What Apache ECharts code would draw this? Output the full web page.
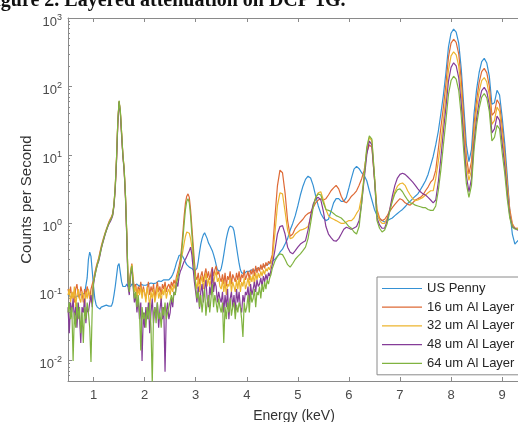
<!DOCTYPE html>
<html><head><meta charset="utf-8">
<script src="https://cdn.jsdelivr.net/npm/echarts@6/dist/echarts.min.js"></script>
<style>html,body{margin:0;padding:0;background:#fff;}#c{width:518px;height:422px;}</style>
</head><body><div id="c"></div>
<script>
const titleText = 'Figure 2. Layered attenuation on DCP 1G.';
const seriesNames = ['US Penny', '16 um Al Layer', '32 um Al Layer', '48 um Al Layer', '64 um Al Layer'];
const xTickValues = [1, 2, 3, 4, 5, 6, 7, 8, 9];
const yTickValues = [0.01, 0.1, 1, 10, 100, 1000];

const energy = [
0.500,0.525,0.550,0.575,0.600,0.625,0.650,0.675,0.700,0.725,0.750,0.775,0.800,0.825,0.850,0.875,0.900,0.925,0.950,0.975,
1.000,1.025,1.050,1.075,1.100,1.125,1.150,1.175,1.200,1.225,1.250,1.275,1.300,1.325,1.350,1.375,1.400,1.425,1.450,1.475,
1.500,1.525,1.550,1.575,1.600,1.625,1.650,1.675,1.700,1.725,1.750,1.775,1.800,1.825,1.850,1.875,1.900,1.925,1.950,1.975,
2.000,2.025,2.050,2.075,2.100,2.125,2.150,2.175,2.200,2.225,2.250,2.275,2.300,2.325,2.350,2.375,2.400,2.425,2.450,2.475,
2.500,2.525,2.550,2.575,2.600,2.625,2.650,2.675,2.700,2.725,2.750,2.775,2.800,2.825,2.850,2.875,2.900,2.925,2.950,2.975,
3.000,3.025,3.050,3.075,3.100,3.125,3.150,3.175,3.200,3.225,3.250,3.275,3.300,3.325,3.350,3.375,3.400,3.425,3.450,3.475,
3.500,3.525,3.550,3.575,3.600,3.625,3.650,3.675,3.700,3.725,3.750,3.775,3.800,3.825,3.850,3.875,3.900,3.925,3.950,3.975,
4.000,4.025,4.050,4.075,4.100,4.125,4.150,4.175,4.200,4.225,4.250,4.275,4.300,4.325,4.350,4.375,4.400,4.425,4.450,4.475,
4.50,4.55,4.60,4.65,4.70,4.75,4.80,4.85,4.90,4.95,
5.00,5.05,5.10,5.15,5.20,5.25,5.30,5.35,5.40,5.45,
5.50,5.55,5.60,5.65,5.70,5.75,5.80,5.85,5.90,5.95,
6.00,6.05,6.10,6.15,6.20,6.25,6.30,6.35,6.40,6.45,
6.50,6.55,6.60,6.65,6.70,6.75,6.80,6.85,6.90,6.95,
7.00,7.05,7.10,7.15,7.20,7.25,7.30,7.35,7.40,7.45,
7.50,7.55,7.60,7.65,7.70,7.75,7.80,7.85,7.90,7.95,
8.00,8.05,8.10,8.15,8.20,8.25,8.30,8.35,8.40,8.45,
8.50,8.55,8.60,8.65,8.70,8.75,8.80,8.85,8.90,8.95,
9.00,9.05,9.10,9.15,9.20,9.25,9.30,9.35];

const usPenny = [
0.09,0.095,0.085,0.09,0.088,0.082,0.08,0.086,0.085,0.09,0.088,0.092,0.09,0.095,0.1,0.16,0.3,0.38,0.33,0.2,
0.12,0.08,0.065,0.06,0.058,0.056,0.06,0.058,0.062,0.06,0.064,0.06,0.062,0.065,0.062,0.07,0.09,0.12,0.17,0.24,
0.26,0.19,0.14,0.12,0.115,0.12,0.13,0.12,0.125,0.12,0.13,0.122,0.125,0.12,0.13,0.125,0.12,0.13,0.126,0.125,
0.13,0.125,0.12,0.13,0.128,0.135,0.13,0.132,0.14,0.135,0.14,0.145,0.14,0.142,0.145,0.15,0.148,0.15,0.155,0.15,
0.16,0.165,0.18,0.2,0.23,0.27,0.3,0.34,0.36,0.35,0.33,0.3,0.27,0.25,0.24,0.23,0.22,0.22,0.21,0.2,
0.2,0.22,0.28,0.38,0.5,0.6,0.68,0.73,0.7,0.6,0.52,0.48,0.45,0.4,0.35,0.3,0.25,0.21,0.2,0.2,
0.22,0.27,0.35,0.46,0.6,0.73,0.85,0.92,0.93,0.88,0.78,0.6,0.45,0.34,0.26,0.21,0.19,0.19,0.185,0.19,
0.2,0.195,0.2,0.205,0.21,0.2,0.205,0.21,0.22,0.215,0.22,0.225,0.23,0.235,0.24,0.24,0.25,0.255,0.26,0.27,
0.28,0.3,0.33,0.38,0.42,0.5,0.6,0.8,1.0,1.3,
1.8,2.6,3.5,4.4,4.9,4.6,3.6,2.5,1.8,1.4,
1.2,1.1,1.15,1.5,2.0,2.3,2.3,2.1,2.1,2.4,
3.3,4.6,6.2,6.8,6.3,5.5,5.0,4.2,3.0,2.2,
1.6,1.3,1.15,1.1,1.05,1.1,1.15,1.2,1.3,1.4,
1.5,1.6,1.75,1.95,2.1,2.3,2.5,2.7,3.1,3.6,
4.2,5.2,7,9.5,14,22,40,75,160,380,
600,690,620,430,180,50,14,8,12,40,
90,160,230,257,220,140,55,58,88,75,
36,15,5,1.5,0.7,0.5,0.55,0.6];

const al16 = [
0.11,0.09,0.12,0.08,0.1,0.07,0.11,0.13,0.09,0.08,0.12,0.1,0.07,0.11,0.09,0.12,0.1,0.08,0.11,0.13,
0.15,0.19,0.23,0.27,0.31,0.38,0.46,0.54,0.63,0.72,0.82,0.92,1.05,1.15,1.25,1.4,1.9,3.5,9,30,
60,42,20,10,6,2.5,0.7,0.15,0.12,0.2,0.26,0.16,0.11,0.13,0.09,0.12,0.1,0.14,0.09,0.12,
0.12,0.08,0.11,0.14,0.09,0.12,0.1,0.13,0.08,0.11,0.14,0.1,0.12,0.09,0.13,0.11,0.14,0.1,0.12,0.13,
0.11,0.14,0.12,0.15,0.13,0.17,0.2,0.24,0.3,0.45,0.75,1.3,2.0,2.5,2.7,2.4,1.6,0.9,0.5,0.28,
0.17,0.15,0.19,0.13,0.17,0.2,0.14,0.18,0.22,0.16,0.2,0.15,0.19,0.23,0.17,0.21,0.24,0.18,0.2,0.16,
0.14,0.18,0.13,0.19,0.12,0.17,0.15,0.2,0.13,0.18,0.16,0.14,0.19,0.15,0.2,0.14,0.18,0.16,0.21,0.15,
0.16,0.2,0.15,0.21,0.18,0.22,0.17,0.24,0.19,0.23,0.2,0.25,0.21,0.26,0.22,0.27,0.24,0.28,0.26,0.3,
0.35,1.2,3.5,6.0,5.5,2.8,1.1,0.65,0.7,0.85,
0.95,1.05,1.15,1.3,1.4,1.45,1.7,2.0,2.2,2.3,
2.2,2.3,2.6,3.0,3.3,3.6,3.2,2.5,2.1,2.0,
2.2,2.5,2.7,3.0,3.6,4.5,6,11,14,13,
4.5,1.6,1.2,1.1,1.15,1.3,1.5,1.7,1.9,2.1,
2.3,2.2,2.0,1.9,1.85,2.0,2.2,2.3,2.4,2.6,
3.0,3.4,4.0,4.4,6,12,25,50,110,270,
430,490,440,300,125,35,9.5,5.3,8,28,
63,115,165,184,158,100,38,42,64,55,
26,11,4,1.6,1.0,0.85,0.85,0.85];

const al32 = [
0.09,0.11,0.07,0.1,0.08,0.12,0.06,0.09,0.11,0.08,0.07,0.1,0.09,0.06,0.1,0.08,0.11,0.09,0.07,0.1,
0.14,0.18,0.22,0.26,0.3,0.36,0.44,0.52,0.6,0.7,0.8,0.9,1.0,1.1,1.2,1.35,1.85,3.3,8.5,30,
61,43,21,10,6.2,2.6,0.75,0.16,0.12,0.19,0.25,0.15,0.1,0.12,0.08,0.11,0.09,0.12,0.08,0.11,
0.1,0.07,0.12,0.09,0.06,0.1,0.08,0.11,0.07,0.09,0.12,0.08,0.1,0.07,0.11,0.09,0.12,0.08,0.1,0.11,
0.09,0.12,0.1,0.13,0.11,0.15,0.18,0.21,0.25,0.32,0.4,0.52,0.65,0.75,0.79,0.72,0.6,0.45,0.3,0.2,
0.14,0.11,0.16,0.1,0.14,0.17,0.11,0.15,0.19,0.12,0.16,0.12,0.15,0.2,0.13,0.17,0.2,0.14,0.16,0.12,
0.11,0.15,0.1,0.14,0.09,0.13,0.12,0.16,0.1,0.14,0.12,0.1,0.15,0.11,0.16,0.1,0.14,0.12,0.16,0.11,
0.13,0.16,0.12,0.17,0.14,0.18,0.13,0.19,0.15,0.19,0.16,0.2,0.17,0.21,0.18,0.22,0.2,0.23,0.21,0.25,
0.3,0.7,1.8,2.8,2.7,1.5,0.8,0.6,0.62,0.7,
0.75,0.8,0.82,0.85,0.9,1.2,1.8,2.4,2.8,2.9,
2.2,1.6,1.3,1.2,1.15,1.1,1.05,1.0,1.0,1.05,
1.1,1.1,1.2,1.4,1.6,2.5,5,12,18,16,
5,1.5,1.1,1.0,1.0,1.2,1.6,2.2,2.9,3.5,
3.8,3.9,3.6,3.0,2.6,2.3,2.15,2.2,2.3,2.4,
2.6,2.8,3.0,3.0,4.5,8,15,32,72,175,
280,321,290,200,82,23,7,4.25,6,21,
48,85,122,135,116,74,28,32,50,43,
20,9,3.5,1.4,0.95,0.85,0.85,0.85];

const al48 = [
0.06,0.025,0.07,0.05,0.08,0.04,0.06,0.03,0.07,0.045,0.018,0.06,0.05,0.08,0.035,0.06,0.05,0.07,0.09,0.06,
0.13,0.17,0.21,0.25,0.28,0.34,0.42,0.5,0.58,0.68,0.78,0.88,0.98,1.05,1.15,1.3,1.8,3.2,8,28,
60,41,19,9.5,5.8,2.4,0.65,0.12,0.09,0.18,0.22,0.12,0.07,0.09,0.05,0.08,0.04,0.07,0.0098,0.05,
0.03,0.06,0.04,0.07,0.025,0.05,0.08,0.035,0.06,0.045,0.07,0.03,0.055,0.08,0.04,0.06,0.0068,0.05,0.07,0.04,
0.05,0.08,0.06,0.1,0.09,0.14,0.12,0.17,0.2,0.22,0.25,0.28,0.3,0.33,0.35,0.4,0.45,0.35,0.22,0.14,
0.1,0.07,0.12,0.057,0.1,0.13,0.07,0.11,0.15,0.08,0.06,0.12,0.09,0.22,0.1,0.14,0.12,0.07,0.1,0.08,
0.07,0.1,0.05,0.09,0.06,0.11,0.04,0.08,0.1,0.06,0.09,0.05,0.11,0.07,0.1,0.06,0.05,0.09,0.07,0.1,
0.09,0.12,0.07,0.13,0.09,0.11,0.14,0.1,0.15,0.12,0.13,0.16,0.12,0.17,0.14,0.18,0.15,0.19,0.17,0.21,
0.25,0.4,0.7,0.9,0.93,0.7,0.45,0.38,0.36,0.4,
0.45,0.5,0.53,0.56,0.8,1.3,1.9,2.3,2.4,2.2,
1.5,0.9,0.7,0.62,0.56,0.55,0.6,0.7,0.82,0.88,
0.85,0.82,0.86,0.9,1.1,2.0,4.5,10,16,14,
4.5,1.2,0.95,0.85,0.85,1.1,1.6,2.5,3.6,4.6,
5.2,5.4,5.2,4.8,4.4,4.0,3.6,3.2,2.9,2.7,
2.6,2.4,2.2,2.0,2.2,4,9,22,50,120,
190,222,200,135,56,16,5,2.9,4.5,15,
34,60,87,97,84,53,21,24,37,32,
15,7,2.8,1.3,0.9,0.85,0.8,0.82];

const al64 = [
0.05,0.07,0.04,0.06,0.0098,0.05,0.03,0.07,0.04,0.06,0.025,0.05,0.018,0.06,0.04,0.07,0.05,0.03,0.0095,0.06,
0.14,0.17,0.21,0.25,0.29,0.35,0.43,0.51,0.6,0.7,0.79,0.9,1.0,1.1,1.2,1.35,1.9,3.5,9,31,
62,44,21,10,6.2,2.6,0.75,0.15,0.1,0.19,0.24,0.13,0.08,0.1,0.06,0.09,0.05,0.014,0.06,0.04,
0.05,0.03,0.06,0.04,0.07,0.03,0.0045,0.05,0.06,0.035,0.07,0.04,0.05,0.03,0.06,0.045,0.07,0.04,0.05,0.06,
0.06,0.09,0.07,0.1,0.09,0.13,0.16,0.2,0.25,0.38,0.6,1.0,1.6,2.1,2.3,2.0,1.3,0.7,0.4,0.2,
0.12,0.08,0.1,0.06,0.09,0.05,0.08,0.11,0.045,0.07,0.09,0.05,0.08,0.13,0.06,0.09,0.07,0.05,0.08,0.06,
0.05,0.07,0.018,0.06,0.04,0.07,0.05,0.08,0.045,0.06,0.07,0.04,0.065,0.05,0.07,0.06,0.04,0.022,0.07,0.05,
0.06,0.09,0.05,0.1,0.07,0.08,0.11,0.06,0.1,0.09,0.12,0.08,0.13,0.1,0.14,0.11,0.15,0.13,0.16,0.18,
0.22,0.28,0.33,0.36,0.35,0.3,0.25,0.23,0.26,0.3,
0.33,0.36,0.4,0.45,0.6,1.0,1.7,2.4,2.7,2.6,
2.0,1.6,1.55,1.5,1.4,1.3,1.25,1.2,1.1,1.0,
0.9,0.85,0.75,0.7,0.9,2.0,5,13,19,17,
5,1.1,0.85,0.75,0.8,1.0,1.5,2.1,2.7,3.1,
3.2,2.9,2.5,2.2,2.0,1.95,1.85,1.8,1.75,1.7,
1.7,1.6,1.55,1.55,1.8,3,6,14,32,77,
122,141,128,88,37,11,3.8,2.4,3.6,12,
27,48,70,79,68,43,16,18,27,24,
11,5.5,2.3,1.2,0.88,0.83,0.82,0.8];

const seriesValues = [usPenny, al16, al32, al48, al64];
const colors = ['#3591d4', '#de6a36', '#edb52e', '#853c98', '#80b340'];

const minorTicks = [];
for (let p = -3; p < 3; p++) {
  for (let k = 2; k <= 9; k++) {
    const v = k * Math.pow(10, p);
    if (v > 0.005 && v < 1000) minorTicks.push(v);
  }
}

const axisGray = '#8a8a8a';
const labelGray = '#4a4a4a';

const chart = echarts.init(document.getElementById('c'), null, {renderer: 'canvas'});
chart.setOption({
  animation: false,
  backgroundColor: '#fff',
  textStyle: {fontFamily: 'Liberation Sans, Arial, sans-serif'},
  graphic: [{
    type: 'text', x: -17, y: 11, silent: true,
    style: {text: titleText, font: 'bold 20px "Liberation Serif"', fill: '#111', verticalAlign: 'bottom', align: 'left'}
  }],
  grid: {left: 68, top: 18, right: -2, bottom: 41, containLabel: false, outerBoundsMode: 'none'},
  legend: {
    orient: 'vertical', left: 377, top: 277,
    padding: [5, 5, 5, 5], itemWidth: 40, itemHeight: 12, itemGap: 5.7,
    icon: 'path://M0,0 L40,0 L40,1.2 L0,1.2 Z',
    backgroundColor: '#fff', borderColor: '#8a8a8a', borderWidth: 1,
    textStyle: {fontSize: 13, color: '#262626', fontFamily: 'Liberation Sans'},
    data: seriesNames
  },
  xAxis: [{
    type: 'value', min: 0.5, max: 9.35, position: 'bottom',
    axisLine: {lineStyle: {color: axisGray, width: 1}},
    axisTick: {inside: true, length: 4, customValues: xTickValues, lineStyle: {color: axisGray}},
    axisLabel: {customValues: xTickValues, fontSize: 13, color: labelGray, margin: 8},
    splitLine: {show: false},
    name: 'Energy (keV)', nameLocation: 'middle', nameGap: 28, nameMoveOverlap: false,
    nameTextStyle: {fontSize: 14, color: '#333'}
  }, {
    type: 'value', min: 0.5, max: 9.35, position: 'top',
    axisLine: {lineStyle: {color: axisGray, width: 1}},
    axisTick: {inside: true, length: 4, customValues: xTickValues, lineStyle: {color: axisGray}},
    axisLabel: {show: false}, splitLine: {show: false}
  }],
  yAxis: [{
    type: 'log', logBase: 10, min: 0.005, max: 1000, position: 'left',
    axisLine: {show: true, lineStyle: {color: axisGray, width: 1}},
    axisTick: {show: true, inside: true, length: 4, customValues: yTickValues, lineStyle: {color: axisGray}},
    axisLabel: {
      customValues: yTickValues, margin: 6, color: labelGray, padding: [8, 0, 0, 0],
      formatter: function (v) {
        const e = Math.round(Math.log10(v));
        return '{b|10}{s|' + e + '}';
      },
      rich: {
        b: {fontSize: 13, color: labelGray, fontFamily: 'Liberation Sans'},
        s: {fontSize: 9, color: labelGray, fontFamily: 'Liberation Sans', padding: [0, 0, 9, 0]}
      }
    },
    splitLine: {show: false},
    name: 'Counts per Second', nameLocation: 'middle', nameGap: 34, nameMoveOverlap: false,
    nameTextStyle: {fontSize: 15, color: '#333'}
  }, {
    type: 'log', logBase: 10, min: 0.005, max: 1000, position: 'left',
    axisLine: {show: false},
    axisTick: {show: true, inside: true, length: 2, customValues: minorTicks, lineStyle: {color: axisGray}},
    axisLabel: {show: false}, splitLine: {show: false}
  }],
  series: seriesValues.map(function (vals, i) {
    return {
      name: seriesNames[i], type: 'line', xAxisIndex: 0, yAxisIndex: 0,
      symbol: 'none', clip: true,
      lineStyle: {width: 1.2, color: colors[i]},
      itemStyle: {color: colors[i]},
      data: energy.map(function (e, j) { return [e, vals[j]]; })
    };
  })
});
</script>
</body></html>
